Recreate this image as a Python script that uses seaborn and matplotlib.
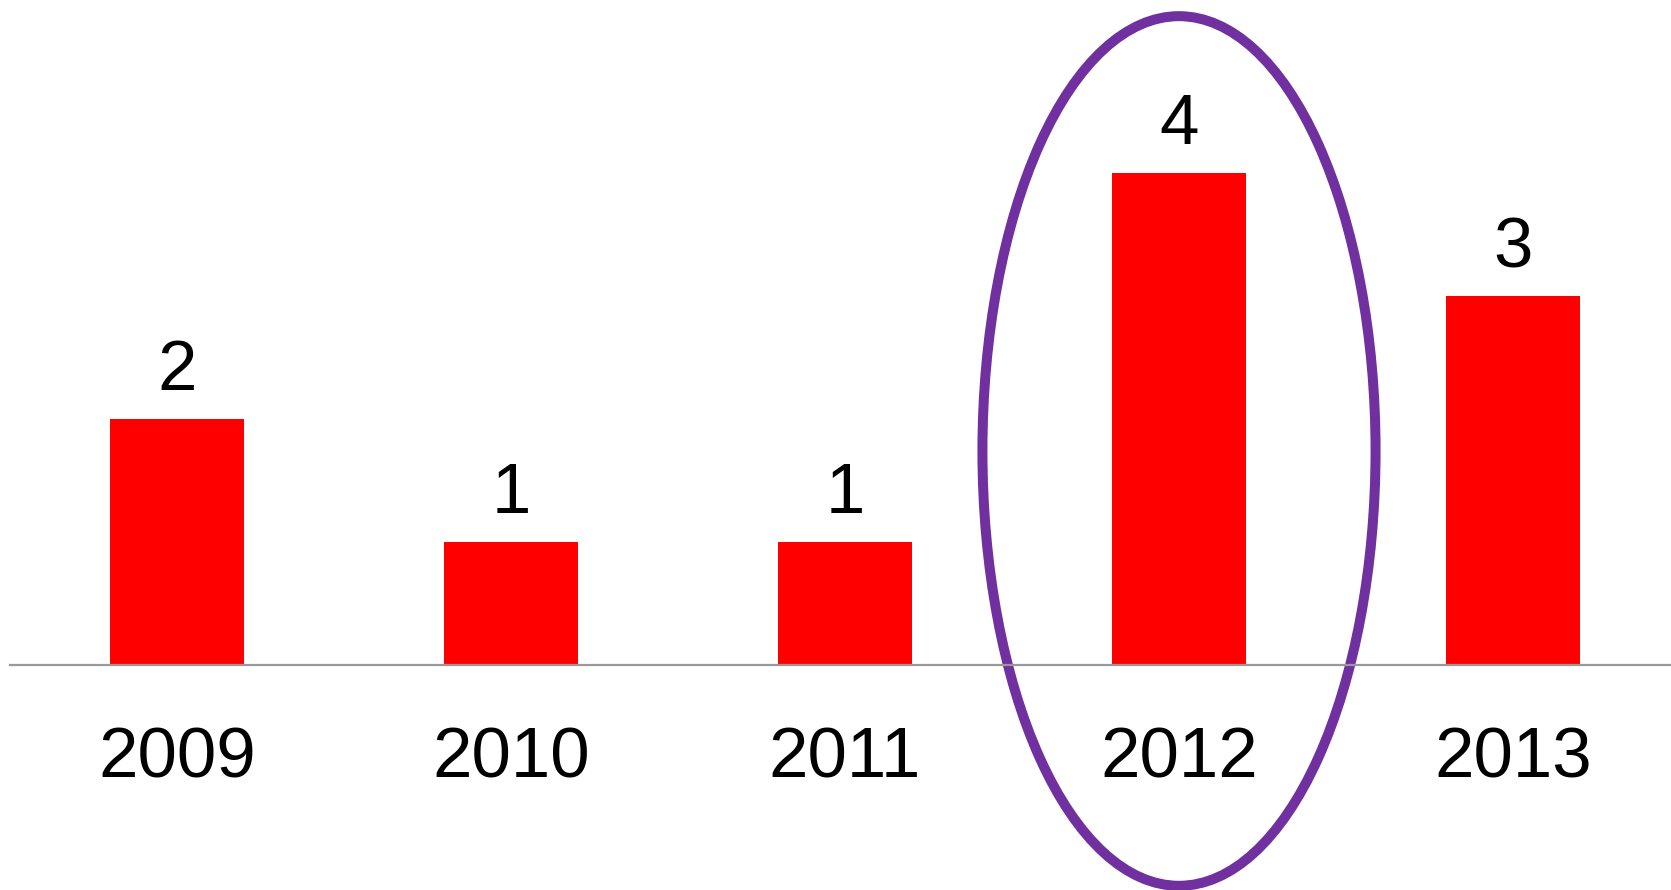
import matplotlib
matplotlib.use("Agg")
import matplotlib.pyplot as plt
from matplotlib.patches import Ellipse
import seaborn as sns
import pandas as pd

years = ["2009", "2010", "2011", "2012", "2013"]
counts = [2, 1, 1, 4, 3]
highlight_year = "2012"

sns.set_theme(style="white")
plt.rcParams['font.family'] = ['Liberation Sans', 'DejaVu Sans']

df = pd.DataFrame({"year": years, "count": counts})

fig = plt.figure(figsize=(16.71, 8.90), dpi=100)
ax = fig.add_axes([10/1671, 0.2528, 1670/1671, 0.7463])
sns.barplot(data=df, x="year", y="count", color="#FF0000", saturation=1,
            width=0.4, ax=ax, edgecolor="none")
ax.set_xlim(-0.5, 4.5)
ax.set_ylim(0, 5.4)
ax.bar_label(ax.containers[0], labels=[str(c) for c in counts],
             padding=10, fontsize=51, color="black")
for s in ["top", "right", "left"]:
    ax.spines[s].set_visible(False)
ax.spines["bottom"].set_color("#999999")
ax.spines["bottom"].set_linewidth(1.6)
ax.set_yticks([])
ax.set_xlabel("")
ax.set_ylabel("")
ax.tick_params(axis="x", length=0, pad=44.5, labelsize=51, labelcolor="black")

xi = years.index(highlight_year)
ell = Ellipse((xi, 1.74), width=1.177, height=7.07, fill=False,
              edgecolor="#7030A0", linewidth=7.2, clip_on=False)
ax.add_patch(ell)

fig.savefig("out.png", dpi=100)
